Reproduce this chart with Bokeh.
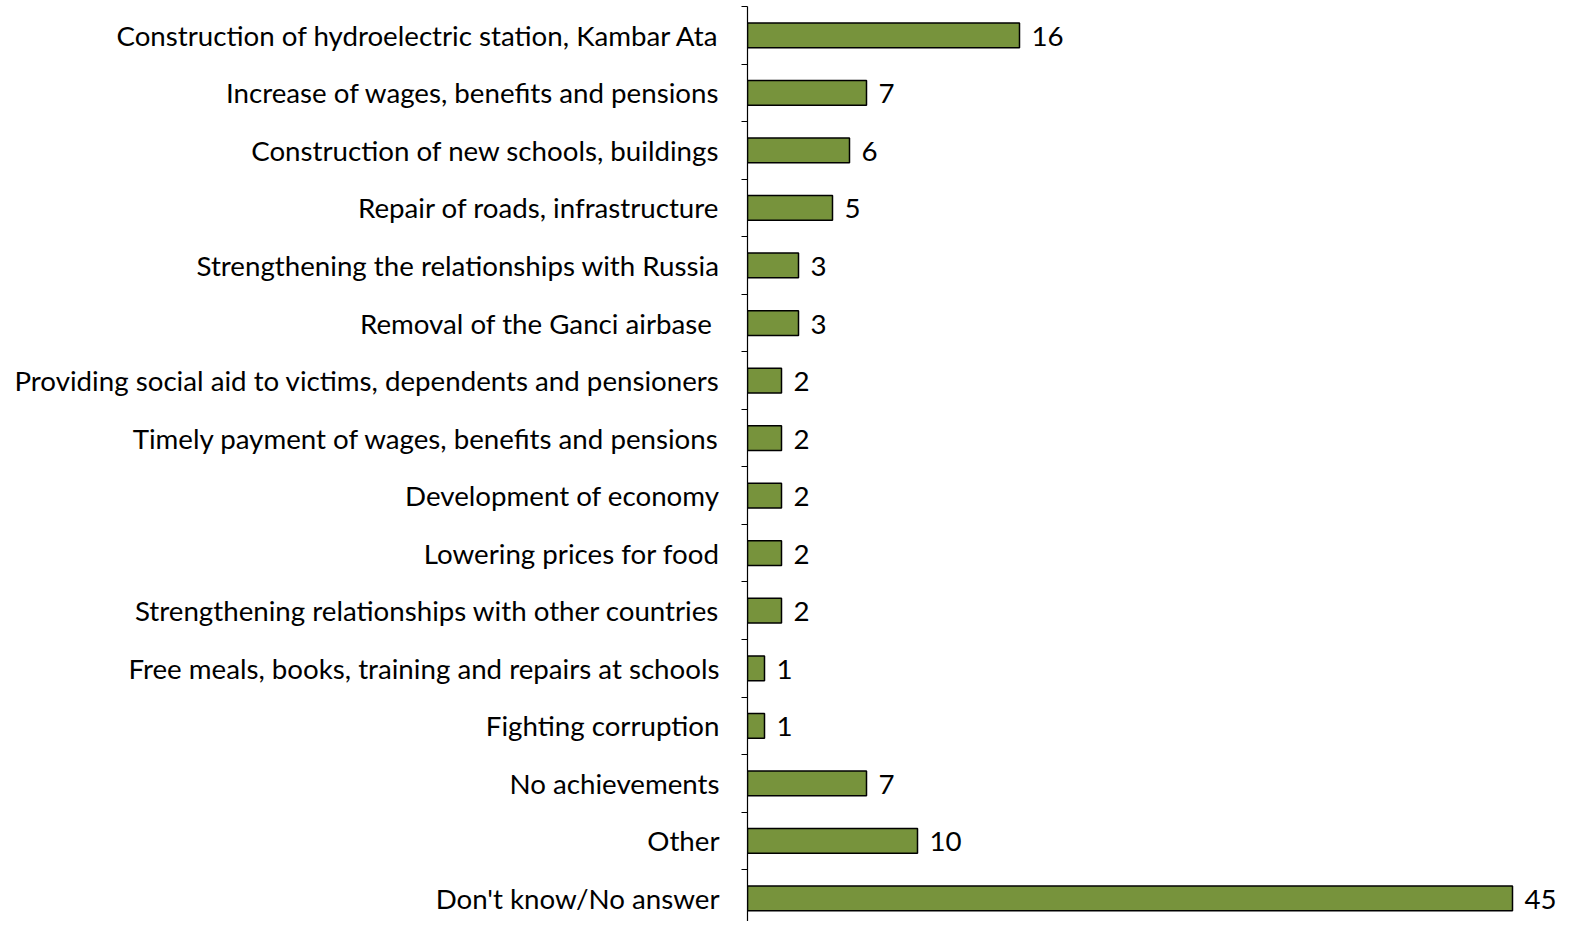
from bokeh.plotting import figure
from bokeh.models import ColumnDataSource, Range1d, FixedTicker
from bokeh.core.properties import value
from bokeh.embed import file_html
from bokeh.resources import INLINE

categories = [
    "Construction of hydroelectric station, Kambar Ata",
    "Increase of wages, benefits and pensions",
    "Construction of new schools, buildings",
    "Repair of roads, infrastructure",
    "Strengthening the relationships with Russia",
    "Removal of the Ganci airbase ",
    "Providing social aid to victims, dependents and pensioners",
    "Timely payment of wages, benefits and pensions",
    "Development of economy",
    "Lowering prices for food",
    "Strengthening relationships with other countries",
    "Free meals, books, training and repairs at schools",
    "Fighting corruption",
    "No achievements",
    "Other",
    "Don't know/No answer",
]
values = [16, 7, 6, 5, 3, 3, 2, 2, 2, 2, 2, 1, 1, 7, 10, 45]

n = len(categories)
ypos = [n - 1 - i for i in range(n)]
src = ColumnDataSource(dict(y=ypos, v=values, lbl=[str(x) for x in values], cat=categories))

FONT = "Lato"
FS = "27.7px"

p = figure(width=1563, height=921, output_backend="svg", toolbar_location=None,
           x_range=Range1d(0, 48.0), y_range=Range1d(-0.4, n - 0.5),
           min_border_left=747, min_border_right=0, min_border_top=6, min_border_bottom=0)
p.outline_line_color = None
p.xgrid.visible = False
p.ygrid.visible = False
p.xaxis.visible = False

p.hbar(y="y", right="v", left=0, height=0.43, source=src,
       fill_color="#77933C", line_color="black", line_width=1.5)

p.text(x="v", y="y", text="lbl", source=src, x_offset=12, y_offset=1,
       text_baseline="middle", text_align="left",
       text_font=value(FONT), text_font_size=FS, text_color="black")

yax = p.yaxis[0]
yax.ticker = FixedTicker(ticks=ypos, minor_ticks=[k - 0.5 for k in range(n + 1)])
yax.major_label_overrides = {y: c for y, c in zip(ypos, categories)}
yax.major_tick_out = 0
yax.major_tick_in = 0
yax.minor_tick_out = 6
yax.minor_tick_in = 0
yax.minor_tick_line_color = "black"
yax.axis_line_color = "black"
yax.axis_line_width = 1.2
yax.minor_tick_line_width = 1.2
yax.major_label_standoff = 22
yax.major_label_text_font = FONT
yax.major_label_text_font_size = FS
yax.major_label_text_color = "black"

open("out.html", "w").write(file_html(p, INLINE))
